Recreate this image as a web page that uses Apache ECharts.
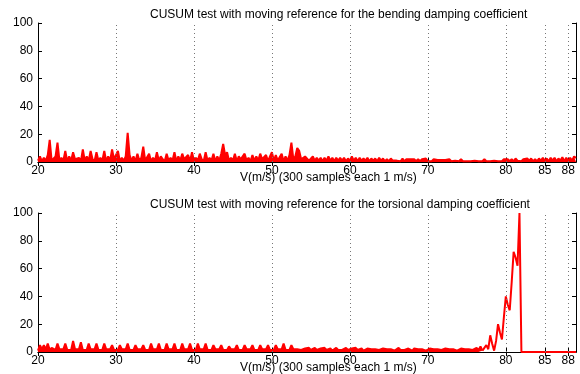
<!DOCTYPE html>
<html>
<head>
<meta charset="utf-8">
<script src="https://cdn.jsdelivr.net/npm/echarts@6/dist/echarts.min.js"></script>
<style>
html, body { margin: 0; padding: 0; background: #fff; }
#main { width: 580px; height: 374px; }
</style>
</head>
<body>
<div id="main"></div>
<script>
// samples every 0.25 m/s starting at 20 m/s (one line per m/s)
var vStart = 20;
var vStep = 0.25;

var bendingCusum = [
    1, 4, 0.5, 3,      // 20
    1, 5, 16, 1,       // 21
    2, 4, 14, 1,       // 22
    3, 1, 8, 0.5,      // 23
    4, 1, 7, 2,        // 24
    1, 3, 0.5, 9,      // 25
    1, 4, 1, 8,        // 26
    2, 0.5, 7, 1,      // 27
    3, 1, 8, 0.5,      // 28
    4, 1, 9, 2,        // 29
    1, 8, 0.5, 3,      // 30
    1, 4, 21, 5,       // 31
    1, 4, 0.5, 6,      // 32
    1, 3, 11, 1,       // 33
    2, 6, 0.5, 3,      // 34
    1, 7, 1, 4,        // 35
    2, 0.5, 6, 1,      // 36
    3, 1, 7, 0.5,      // 37
    4, 1, 6, 2,        // 38
    1, 5, 0.5, 7,      // 39
    1, 3, 1, 6,        // 40
    2, 0.5, 7, 1,      // 41
    3, 1, 6, 0.5,      // 42
    4, 1, 6, 13,       // 43
    5, 7, 1, 3,        // 44
    1, 6, 0.5, 4,      // 45
    2, 1, 6, 1,        // 46
    3, 0.5, 5, 1,      // 47
    4, 1, 6, 2,        // 48
    1, 5, 0.5, 4,      // 49
    7, 1, 5, 1,        // 50
    2, 6, 0.5, 4,      // 51
    1, 5, 14, 2,       // 52
    4, 10, 8, 2,       // 53
    1, 4, 5, 1,        // 54
    2, 4, 1, 3,        // 55
    1, 3, 0.5, 3,      // 56
    1, 4, 1, 3,        // 57
    0.5, 3, 1, 3,      // 58
    1, 3, 0.5, 2.5,    // 59
    1, 4, 1, 3,        // 60
    0.5, 3, 1, 2.5,    // 61
    1, 3, 0.5, 2.5,    // 62
    1, 2.5, 0.5, 3,    // 63
    1, 2.5, 0.5, 2,    // 64
    0.5, 2.5, 1, 2,    // 65
    1, 2, 0.5, 2.5,    // 66
    0.5, 2, 1, 2,      // 67
    1, 2, 0.5, 2,      // 68
    0.5, 2, 1, 2.5,    // 69
    0.5, 1.5, 0.5, 2,  // 70
    1, 1.5, 0.5, 1.5,  // 71
    0.5, 1.5, 0.5, 2,  // 72
    0.5, 1.5, 1, 1.5,  // 73
    0.5, 2, 0.5, 1.5,  // 74
    0.5, 1.5, 0.5, 1.5,// 75
    1, 1.5, 0.5, 1.5,  // 76
    0.5, 2, 0.5, 1.5,  // 77
    0.5, 1.5, 1, 2,    // 78
    0.5, 1.5, 0.5, 2,  // 79
    1, 2, 0.5, 2,      // 80
    0.5, 2.5, 1, 2,    // 81
    0.5, 2, 1, 2.5,    // 82
    1, 2.5, 0.5, 2,    // 83
    0.5, 2.5, 1, 3,    // 84
    1, 2.5, 0.5, 3,    // 85
    1, 3, 0.5, 2.5,    // 86
    1, 3.5, 0.5, 3,    // 87
    1, 3, 1, 4,        // 88
    3                  // 89
];

var torsionalCusum = [
    1, 5, 2, 5,        // 20
    2, 6, 1.5, 3,      // 21
    2, 1.5, 6, 2,      // 22
    1.5, 2, 6, 1.5,    // 23
    2, 1.5, 8, 2,      // 24
    1.5, 2, 7, 1.5,    // 25
    2, 1.5, 6, 2,      // 26
    1.5, 2, 6, 1.5,    // 27
    2, 1.5, 6, 2,      // 28
    1.5, 2, 5, 1.5,    // 29
    2, 1.5, 5, 2,      // 30
    1.5, 2, 6, 1.5,    // 31
    2, 1.5, 5, 2,      // 32
    1.5, 2, 5, 1.5,    // 33
    2, 1.5, 6, 2,      // 34
    1.5, 2, 6, 1.5,    // 35
    2, 1.5, 6, 2,      // 36
    1.5, 2, 6, 1.5,    // 37
    2, 1.5, 6, 2,      // 38
    1.5, 2, 6, 1.5,    // 39
    2, 1.5, 6, 2,      // 40
    1.5, 2, 6, 1.5,    // 41
    2, 1.5, 5, 2,      // 42
    1.5, 2, 5, 1.5,    // 43
    2, 1.5, 4, 2,      // 44
    1.5, 2, 5, 1.5,    // 45
    2, 1.5, 5, 2,      // 46
    1.5, 2, 5, 1.5,    // 47
    2, 1.5, 5, 2,      // 48
    1.5, 2, 5, 1.5,    // 49
    2, 1.5, 5, 2,      // 50
    1.5, 2, 6, 1.5,    // 51
    2, 1.5, 5, 2,      // 52
    1.5, 2, 3, 1.5,    // 53
    1, 2.5, 1.5, 3,    // 54
    1.5, 2, 3, 1.5,    // 55
    1, 2.5, 1.5, 3,    // 56
    1.5, 2, 2.5, 1,    // 57
    1, 3, 1.5, 2,      // 58
    1.5, 2, 3, 1.5,    // 59
    1, 2.5, 1.5, 3,    // 60
    1.5, 2, 2.5, 1,    // 61
    1, 2.5, 1.5, 2,    // 62
    1.5, 2, 3, 1.5,    // 63
    1, 2.5, 1.5, 2,    // 64
    1.5, 2, 2.5, 1,    // 65
    1, 3, 1.5, 2,      // 66
    1.5, 2, 2.5, 1.5,  // 67
    1, 2.5, 1.5, 2,    // 68
    1.5, 2, 3, 1,      // 69
    1, 2.5, 1.5, 2,    // 70
    1.5, 2, 2.5, 1.5,  // 71
    1, 2.5, 1.5, 2,    // 72
    1.5, 2, 2.5, 1,    // 73
    1, 2.5, 1.5, 2,    // 74
    1.5, 2, 3, 1.5,    // 75
    1, 3, 1.5, 4,      // 76
    1, 3, 5, 2,        // 77
    12, 6, 1, 8,       // 78
    20, 14, 9, 25,     // 79
    40, 34, 30, 50,    // 80
    72, 68, 62, 100,   // 81
    0, 0, 0, 0,        // 82
    0, 0, 0, 0,        // 83
    0, 0, 0, 0,        // 84
    0, 0, 0, 0,        // 85
    0, 0, 0, 0,        // 86
    0, 0, 0, 0,        // 87
    0, 0, 0, 0,        // 88
    0                  // 89
];

// the dense (visually filled) part of each record ends here
var denseEnd = [89, 77];

var xTicks = [20, 30, 40, 50, 60, 70, 80, 85, 88];
var xGridLines = [30, 40, 50, 60, 70, 80, 85, 88];
var titles = [
    'CUSUM test with moving reference for the bending damping coefficient',
    'CUSUM test with moving reference for the torsional damping coefficient'
];
var xName = 'V(m/s) (300 samples each 1 m/s)';

function toPairs(arr) {
    return arr.map(function (y, i) { return [vStart + i * vStep, y]; });
}

var myChart = echarts.init(document.getElementById('main'));

var font = 'Liberation Sans, Arial, sans-serif';
var gridTops = [23, 213];
var grids = [], xAxes = [], yAxes = [], series = [], titleList = [];

gridTops.forEach(function (top, k) {
    grids.push({ left: 38, right: 4, top: top, height: 139 });
    // bottom x axis
    xAxes.push({
        type: 'value', gridIndex: k, min: 20, max: 89, position: 'bottom',
        axisLine: { lineStyle: { color: '#000', width: 1 } },
        axisTick: { inside: true, length: 4, customValues: xTicks, lineStyle: { color: '#000' } },
        axisLabel: { customValues: xTicks, color: '#000', fontSize: 12, fontFamily: font, margin: 3 },
        splitLine: { show: false }
    });
    // top x axis (box)
    xAxes.push({
        type: 'value', gridIndex: k, min: 20, max: 89, position: 'top',
        axisLine: { lineStyle: { color: '#000', width: 1 } },
        axisTick: { inside: true, length: 4, customValues: xTicks, lineStyle: { color: '#000' } },
        axisLabel: { show: false },
        splitLine: { show: false }
    });
    yAxes.push({
        type: 'value', gridIndex: k, min: 0, max: 100, interval: 20, position: 'left',
        axisLine: { show: true, lineStyle: { color: '#000', width: 1 } },
        axisTick: { show: true, inside: true, length: 4, lineStyle: { color: '#000' } },
        axisLabel: { color: '#000', fontSize: 12, fontFamily: font, margin: 5 },
        splitLine: { show: false }
    });
    yAxes.push({
        type: 'value', gridIndex: k, min: 0, max: 100, interval: 20, position: 'right',
        axisLine: { show: true, lineStyle: { color: '#000', width: 1 } },
        axisTick: { show: true, inside: true, length: 4, lineStyle: { color: '#000' } },
        axisLabel: { show: false },
        splitLine: { show: false }
    });
    // dotted grid lines
    series.push({
        type: 'line', xAxisIndex: 2 * k, yAxisIndex: 2 * k, data: [], silent: true, z: 1,
        markLine: {
            silent: true, symbol: 'none', label: { show: false },
            lineStyle: { color: '#777', type: [1, 3], width: 1 },
            data: xGridLines.map(function (v) { return { xAxis: v }; })
        }
    });
    var pairs = toPairs(k === 0 ? bendingCusum : torsionalCusum);
    var dense = pairs.filter(function (p) { return p[0] <= denseEnd[k]; });
    var sparse = pairs.filter(function (p) { return p[0] >= denseEnd[k]; });
    series.push({
        type: 'line', xAxisIndex: 2 * k, yAxisIndex: 2 * k, z: 3,
        data: dense, showSymbol: false, symbol: 'none', clip: true,
        lineStyle: { color: '#ff0000', width: 2 },
        areaStyle: { color: '#ff0000', opacity: 1 }
    });
    if (sparse.length > 1) {
        series.push({
            type: 'line', xAxisIndex: 2 * k, yAxisIndex: 2 * k, z: 3,
            data: sparse, showSymbol: false, symbol: 'none', clip: true,
            lineStyle: { color: '#ff0000', width: 2 }
        });
    }
    titleList.push({
        text: titles[k], left: 145, top: top - 19,
        textStyle: { fontSize: 12, fontWeight: 'normal', color: '#000', fontFamily: font }
    });
    titleList.push({
        text: xName, left: 235, top: top + 144,
        textStyle: { fontSize: 12, fontWeight: 'normal', color: '#000', fontFamily: font }
    });
});

option = {
    backgroundColor: '#fff',
    animation: false,
    title: titleList,
    grid: grids,
    xAxis: xAxes,
    yAxis: yAxes,
    series: series
};
myChart.setOption(option);
window.addEventListener('resize', function () { myChart.resize(); });
</script>
</body>
</html>
